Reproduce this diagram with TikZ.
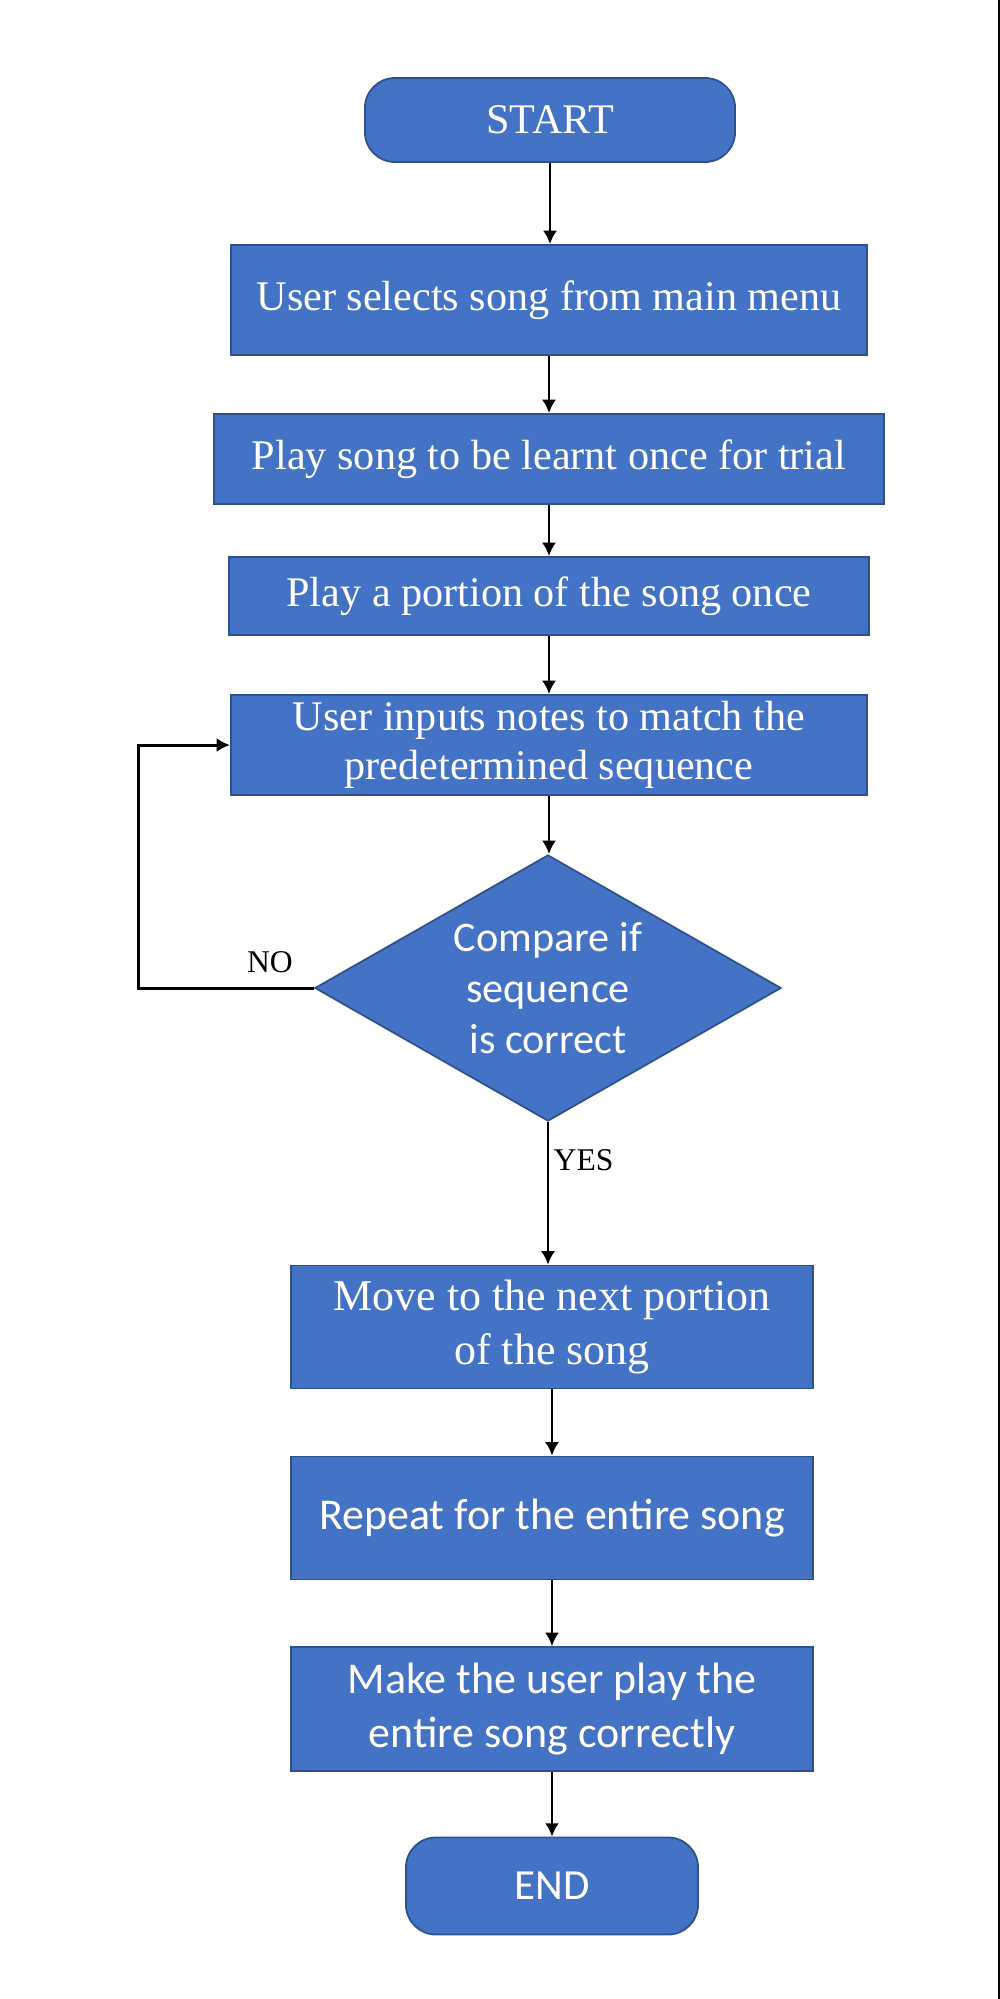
\documentclass[tikz,border=0pt]{standalone}
\usepackage{fontspec}
\setmainfont{Liberation Serif}
\newfontfamily\calibrifont{Carlito}
\usetikzlibrary{shapes.geometric,arrows.meta}
\definecolor{boxblue}{HTML}{4472C4}
\definecolor{boxline}{HTML}{2F528F}

\begin{document}
\begin{tikzpicture}[x=0.01cm,y=-0.01cm,
  box/.style={rectangle,draw=boxline,fill=boxblue,line width=0.5pt,text=white,
    align=center,inner sep=0pt,font=\fontsize{12}{14.5}\selectfont},
  sbox/.style={box,font=\calibrifont\fontsize{12.5}{15.2}\selectfont},
  term/.style={box,rounded corners=0.3cm},
  dec/.style={sbox,diamond,shape aspect=1.75,font=\calibrifont\fontsize{12}{14.6}\selectfont},
  arr/.style={-{Latex[length=3.8pt,width=4pt]},line width=0.85pt},
  lbl/.style={inner sep=0pt,font=\fontsize{9}{11}\selectfont}]
\fill[white] (0,0) rectangle (1000,1999);
\useasboundingbox (0,0) rectangle (1000,1999);

\node[term,minimum width=3.7cm,minimum height=0.84cm] (start) at (550,120) {START};
\node[box,minimum width=6.36cm,minimum height=1.1cm] (sel) at (549,300) {User selects song from main menu};
\node[box,minimum width=6.69cm,minimum height=0.9cm] (trial) at (549,459) {Play song to be learnt once for trial};
\node[box,minimum width=6.4cm,minimum height=0.78cm] (part) at (549,596) {Play a portion of the song once};
\node[box,minimum width=6.36cm,minimum height=1.0cm,font=\fontsize{12}{14}\selectfont] (inp) at (549,745)
  {User inputs notes to match the\\predetermined sequence};
\node[dec,minimum width=4.66cm,minimum height=2.66cm] (cmp) at (548,988) {Compare if\\sequence\\is correct};

\node[box,minimum width=5.22cm,minimum height=1.23cm,font=\fontsize{12.5}{15.2}\selectfont] (next) at (552,1327)
  {Move to the next portion\\of the song};
\node[sbox,minimum width=5.22cm,minimum height=1.23cm] (rep) at (552,1518) {Repeat for the entire song};
\node[sbox,minimum width=5.22cm,minimum height=1.24cm] (mk) at (552,1709) {Make the user play the\\entire song correctly};
\node[sbox,rounded corners=0.3cm,minimum width=2.92cm,minimum height=0.97cm,font=\calibrifont\fontsize{12.2}{14}\selectfont] (fin) at (552,1886) {END};

\foreach \a/\b in {start/sel,sel/trial,trial/part,part/inp,inp/cmp,cmp/next,next/rep,rep/mk,mk/fin}
  \draw[arr] (\a.south) -- (\a.south |- \b.north);

\draw[arr] (cmp.west) -- ++(-175,0) |- (inp.west);
\node[lbl] (no) at (270,962) {NO};
\node[lbl,anchor=west] (yes) at (553,1160) {YES};

\draw[line width=0.65pt] (999,0) -- (999,1999);
\end{tikzpicture}
\end{document}
